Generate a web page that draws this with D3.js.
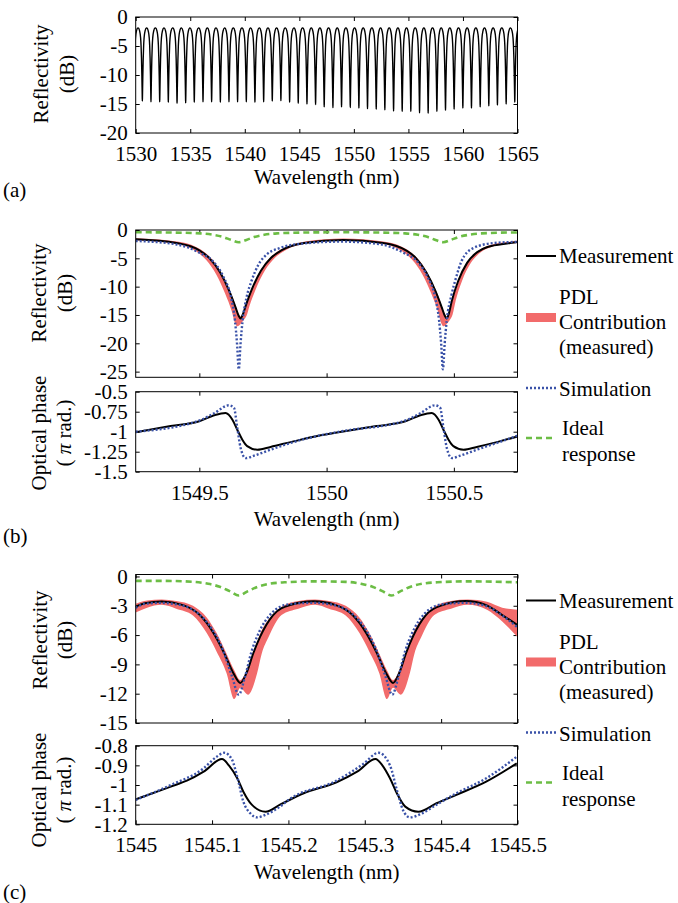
<!DOCTYPE html>
<html>
<head>
<meta charset="utf-8">
<script src="https://cdn.jsdelivr.net/npm/d3@7"></script>
<style>
body { margin: 0; background: #fff; }
svg { display: block; }
text { font-family: "Liberation Serif", "Tinos", "Times New Roman", Times, "DejaVu Serif", "Noto Serif", serif; font-size: 21px; fill: #000; }
</style>
</head>
<body>
<svg width="678" height="903"></svg>
<script>

// ---------- (a) full comb ----------
var aTicksX = [1530, 1535, 1540, 1545, 1550, 1555, 1560, 1565];
var aTicksY = [0, -5, -10, -15, -20];
var combPeak = -1.9;
var combCenters = [1529.82, 1530.61, 1531.40, 1532.20, 1532.99, 1533.79, 1534.58, 1535.37, 1536.17,
    1536.96, 1537.76, 1538.55, 1539.34, 1540.14, 1540.93, 1541.73, 1542.52, 1543.31, 1544.11,
    1544.90, 1545.70, 1546.49, 1547.28, 1548.08, 1548.87, 1549.67, 1550.46, 1551.25, 1552.05,
    1552.84, 1553.64, 1554.43, 1555.22, 1556.02, 1556.81, 1557.61, 1558.40, 1559.19, 1559.99,
    1560.78, 1561.58, 1562.37, 1563.16, 1563.96, 1564.75];
var combDepths = [-14.5, -14.5, -14.6, -14.6, -14.7, -14.9, -14.8, -14.7, -14.6, -14.6, -14.7,
    -14.6, -14.6, -14.6, -14.7, -14.6, -14.5, -14.4, -14.7, -14.9, -15.0, -15.1, -15.5, -15.6,
    -15.5, -15.6, -15.7, -15.8, -15.9, -16.0, -16.2, -16.3, -16.3, -16.5, -16.6, -16.3, -16.1,
    -15.9, -15.7, -15.7, -15.5, -15.3, -15.2, -15.0, -14.7];
var dipProfile = [[-0.38, 0], [-0.25, 0.04], [-0.16, 0.134], [-0.12, 0.235], [-0.08, 0.415],
    [-0.045, 0.646], [-0.02, 0.856], [-0.008, 0.96], [0, 1], [0.008, 0.96], [0.02, 0.856],
    [0.045, 0.646], [0.08, 0.415], [0.12, 0.235], [0.16, 0.134], [0.25, 0.04], [0.38, 0]];

// ---------- (b) zoom around 1550 nm ----------
var bTicksX = [1549.5, 1550, 1550.5];
var bTicksR = [0, -5, -10, -15, -20, -25];
var bTicksP = [-0.5, -0.75, -1, -1.25, -1.5];
var bMeasR = [[1549.25, -1.65], [1549.41, -2.3], [1549.50, -3.6], [1549.54, -5.0], [1549.582, -7.5],
    [1549.617, -10.7], [1549.642, -13.6], [1549.654, -15.1], [1549.662, -15.6], [1549.670, -15.0],
    [1549.682, -13.4], [1549.707, -10.4], [1549.742, -7.2], [1549.782, -4.9], [1549.822, -3.6],
    [1549.912, -2.3], [1550.066, -1.75], [1550.222, -2.3], [1550.312, -3.6], [1550.352, -5.0],
    [1550.392, -7.5], [1550.427, -10.7], [1550.452, -13.6], [1550.464, -15.1], [1550.472, -15.6],
    [1550.480, -14.8], [1550.492, -12.5], [1550.517, -9.0], [1550.552, -5.8], [1550.592, -3.9],
    [1550.632, -3.0], [1550.722, -2.3], [1550.75, -2.1]];
var bSimR = [[1549.25, -1.94], [1549.405, -2.5], [1549.50, -4.0], [1549.555, -5.6], [1549.595, -8.3],
    [1549.625, -12], [1549.640, -16], [1549.648, -20], [1549.655, -24.6], [1549.662, -20],
    [1549.670, -16], [1549.685, -12], [1549.705, -9.0], [1549.730, -6.3], [1549.765, -4.3],
    [1549.815, -3.2], [1549.905, -2.4], [1550.06, -2.05], [1550.207, -2.5], [1550.302, -4.0],
    [1550.357, -5.6], [1550.397, -8.3], [1550.427, -12], [1550.442, -16], [1550.450, -20],
    [1550.457, -24.6], [1550.464, -20], [1550.472, -16], [1550.491, -11.4], [1550.508, -8.5],
    [1550.530, -5.5], [1550.576, -3.2], [1550.657, -2.3], [1550.75, -2.1]];
var bIdealR = [[1549.25, -0.4], [1549.40, -0.45], [1549.505, -0.6], [1549.555, -0.85], [1549.595, -1.25],
    [1549.625, -1.75], [1549.655, -2.15], [1549.685, -1.75], [1549.715, -1.25], [1549.755, -0.85],
    [1549.805, -0.6], [1549.91, -0.45], [1550.06, -0.4], [1550.21, -0.45], [1550.308, -0.6],
    [1550.358, -0.85], [1550.398, -1.25], [1550.428, -1.75], [1550.458, -2.15], [1550.488, -1.75],
    [1550.518, -1.25], [1550.558, -0.85], [1550.608, -0.6], [1550.72, -0.45], [1550.75, -0.45]];
// PDL band: [wavelength, lower, upper]
var bPdlR = [[1549.25, -1.8, -1.45], [1549.412, -2.45, -2.05], [1549.487, -3.75, -3.0], [1549.527, -5.3, -4.15],
    [1549.567, -7.9, -6.15], [1549.602, -11.3, -8.95], [1549.627, -14.3, -11.45], [1549.640, -16.4, -13.05],
    [1549.650, -17.0, -14.35], [1549.662, -16.6, -15.3], [1549.672, -16.0, -14.55], [1549.685, -15.2, -12.75],
    [1549.697, -13.4, -11.55], [1549.722, -10.4, -8.75], [1549.757, -7.2, -6.05], [1549.797, -4.9, -4.15],
    [1549.837, -3.6, -3.1], [1549.922, -2.4, -2.0], [1550.066, -1.85, -1.5], [1550.222, -2.45, -2.05],
    [1550.297, -3.75, -3.0], [1550.337, -5.3, -4.15], [1550.377, -7.9, -6.15], [1550.412, -11.3, -8.95],
    [1550.437, -14.3, -11.45], [1550.450, -16.4, -13.05], [1550.460, -17.0, -14.35], [1550.472, -16.6, -15.3],
    [1550.482, -16.0, -14.55], [1550.495, -14.9, -11.85], [1550.507, -12.5, -10.65], [1550.532, -9.0, -7.45],
    [1550.567, -5.8, -4.85], [1550.607, -3.9, -3.35], [1550.647, -3.0, -2.6], [1550.732, -2.35, -2.0],
    [1550.75, -2.3, -1.85]];
var bMeasP = [[1549.25, -1.008], [1549.387, -0.93], [1549.5, -0.87], [1549.558, -0.795], [1549.603, -0.766],
    [1549.63, -0.85], [1549.649, -0.975], [1549.669, -1.10], [1549.688, -1.18], [1549.728, -1.225],
    [1549.78, -1.19], [1549.859, -1.13], [1549.977, -1.045], [1550.107, -0.975], [1550.197, -0.93],
    [1550.31, -0.87], [1550.368, -0.795], [1550.413, -0.766], [1550.44, -0.85], [1550.459, -0.975],
    [1550.479, -1.10], [1550.498, -1.18], [1550.538, -1.225], [1550.59, -1.19], [1550.669, -1.13],
    [1550.75, -1.06]];
var bSimP = [[1549.25, -1.0], [1549.5, -0.86], [1549.558, -0.77], [1549.616, -0.67], [1549.636, -0.70],
    [1549.649, -0.95], [1549.662, -1.2], [1549.682, -1.33], [1549.715, -1.30], [1549.78, -1.225],
    [1549.859, -1.14], [1549.977, -1.045], [1550.06, -0.995], [1550.31, -0.86], [1550.368, -0.77],
    [1550.426, -0.67], [1550.446, -0.70], [1550.459, -0.95], [1550.472, -1.2], [1550.492, -1.33],
    [1550.525, -1.30], [1550.59, -1.225], [1550.669, -1.14], [1550.75, -1.05]];

// ---------- (c) zoom around 1545.25 nm ----------
var cTicksX = [1545, 1545.1, 1545.2, 1545.3, 1545.4, 1545.5];
var cTicksR = [0, -3, -6, -9, -12, -15];
var cTicksP = [-0.8, -0.9, -1, -1.1, -1.2];
var cMeasR = [[1545.000, -3.1], [1545.012, -2.75], [1545.034, -2.57], [1545.062, -2.93], [1545.084, -3.95],
    [1545.102, -5.8], [1545.115, -7.7], [1545.128, -9.9], [1545.137, -10.9], [1545.145, -9.9],
    [1545.154, -7.86], [1545.163, -6.16], [1545.180, -3.95], [1545.202, -2.93], [1545.233, -2.55],
    [1545.262, -2.93], [1545.284, -3.95], [1545.302, -5.8], [1545.315, -7.7], [1545.328, -9.9],
    [1545.337, -10.9], [1545.345, -9.9], [1545.354, -7.86], [1545.363, -6.16], [1545.380, -3.95],
    [1545.402, -2.93], [1545.432, -2.52], [1545.459, -2.93], [1545.480, -3.95], [1545.500, -4.97]];
var cSimR = [[1545.000, -3.2], [1545.012, -2.8], [1545.032, -2.7], [1545.06, -2.95], [1545.082, -3.8],
    [1545.100, -5.4], [1545.113, -7.3], [1545.126, -10.2], [1545.135, -12.1], [1545.143, -10.3],
    [1545.152, -7.6], [1545.161, -5.8], [1545.178, -3.75], [1545.200, -2.85], [1545.233, -2.7],
    [1545.261, -2.95], [1545.283, -3.8], [1545.301, -5.4], [1545.314, -7.3], [1545.327, -10.2],
    [1545.336, -12.1], [1545.344, -10.3], [1545.353, -7.6], [1545.362, -5.8], [1545.379, -3.75],
    [1545.401, -2.85], [1545.431, -2.7], [1545.458, -3.0], [1545.480, -4.0], [1545.500, -5.2]];
var cIdealR = [[1545.000, -0.45], [1545.035, -0.45], [1545.075, -0.55], [1545.095, -0.75], [1545.11, -1.05],
    [1545.123, -1.5], [1545.135, -1.95], [1545.147, -1.5], [1545.16, -1.05], [1545.175, -0.75],
    [1545.195, -0.6], [1545.235, -0.5], [1545.275, -0.55], [1545.295, -0.75], [1545.31, -1.05],
    [1545.323, -1.5], [1545.335, -1.95], [1545.347, -1.5], [1545.36, -1.05], [1545.375, -0.75],
    [1545.395, -0.6], [1545.435, -0.5], [1545.5, -0.6]];
var cPdlR = [[1545.000, -3.7, -2.8], [1545.015, -3.2, -2.45], [1545.034, -2.9, -2.35], [1545.053, -3.3, -2.5],
    [1545.075, -4.0, -3.0], [1545.093, -5.8, -4.2], [1545.106, -7.7, -5.8], [1545.119, -9.9, -7.9],
    [1545.129, -12.55, -9.6], [1545.137, -11.4, -10.6], [1545.147, -12.1, -9.3], [1545.159, -9.9, -6.7],
    [1545.165, -7.9, -5.5], [1545.174, -6.2, -4.4], [1545.191, -3.95, -3.1], [1545.213, -3.3, -2.5],
    [1545.235, -2.9, -2.35], [1545.253, -3.3, -2.5], [1545.275, -4.0, -3.0], [1545.293, -5.8, -4.2],
    [1545.306, -7.7, -5.8], [1545.319, -9.9, -7.9], [1545.329, -12.55, -9.6], [1545.337, -11.4, -10.6],
    [1545.347, -12.1, -9.3], [1545.359, -9.9, -6.7], [1545.365, -7.9, -5.5], [1545.374, -6.2, -4.4],
    [1545.391, -3.95, -3.1], [1545.413, -3.3, -2.5], [1545.435, -2.9, -2.35], [1545.46, -3.4, -2.6],
    [1545.48, -4.6, -3.2], [1545.5, -6.2, -3.4]];
var cMeasP = [[1545.000, -1.073], [1545.046, -1.008], [1545.067, -0.978], [1545.089, -0.932], [1545.113, -0.868],
    [1545.122, -0.90], [1545.133, -0.966], [1545.141, -1.034], [1545.152, -1.10], [1545.170, -1.136],
    [1545.189, -1.10], [1545.220, -1.042], [1545.263, -0.986], [1545.290, -0.932], [1545.314, -0.868],
    [1545.323, -0.90], [1545.333, -0.966], [1545.342, -1.042], [1545.353, -1.11], [1545.370, -1.136],
    [1545.394, -1.093], [1545.420, -1.05], [1545.459, -0.983], [1545.499, -0.89]];
var cSimP = [[1545.000, -1.076], [1545.046, -1.0], [1545.089, -0.915], [1545.106, -0.856], [1545.116, -0.836],
    [1545.126, -0.87], [1545.133, -0.958], [1545.141, -1.085], [1545.150, -1.144], [1545.159, -1.165],
    [1545.172, -1.148], [1545.189, -1.11], [1545.200, -1.076], [1545.263, -0.978], [1545.298, -0.893],
    [1545.318, -0.836], [1545.333, -0.9], [1545.342, -1.025], [1545.350, -1.127], [1545.359, -1.165],
    [1545.372, -1.15], [1545.394, -1.10], [1545.420, -1.042], [1545.459, -0.966], [1545.499, -0.856]];

var legendLabels = [['Measurement'], ['PDL', 'Contribution', '(measured)'], ['Simulation'], ['Ideal', 'response']];

var svg = d3.select('svg'),
    left = 135.7,
    right = 517.5,
    tick = 4,
    red = '#f26b6b',
    blue = '#3a52a8',
    green = '#6cbd45',
    clipId = 0;

function fmt(d) { return String(d); }

// boxed axes with inward ticks on all sides, returns a clipped group for the marks
function box(x, y, xTicks, yTicks, showX) {
    var y0 = y.range()[0], y1 = y.range()[1];
    var g = svg.append('g');
    g.append('g').attr('transform', 'translate(0,' + y0 + ')')
        .call(d3.axisBottom(x).tickValues(xTicks).tickSizeInner(-tick).tickSizeOuter(0).tickPadding(13)
            .tickFormat(showX ? fmt : ''))
        .call(function (a) { a.select('.domain').remove(); });
    g.append('g').attr('transform', 'translate(0,' + y1 + ')')
        .call(d3.axisTop(x).tickValues(xTicks).tickSizeInner(-tick).tickSizeOuter(0).tickFormat(''))
        .call(function (a) { a.select('.domain').remove(); });
    g.append('g').attr('transform', 'translate(' + left + ',0)')
        .call(d3.axisLeft(y).tickValues(yTicks).tickSizeInner(-tick).tickSizeOuter(0).tickPadding(8).tickFormat(fmt))
        .call(function (a) { a.select('.domain').remove(); });
    g.append('g').attr('transform', 'translate(' + right + ',0)')
        .call(d3.axisRight(y).tickValues(yTicks).tickSizeInner(-tick).tickSizeOuter(0).tickFormat(''))
        .call(function (a) { a.select('.domain').remove(); });
    g.selectAll('g').attr('font-family', null).attr('font-size', null);

    var id = 'clip' + (clipId++);
    svg.append('clipPath').attr('id', id).append('rect')
        .attr('x', left).attr('y', y1).attr('width', right - left).attr('height', y0 - y1);
    var plot = svg.append('g').attr('clip-path', 'url(#' + id + ')');

    svg.append('rect').attr('x', left).attr('y', y1).attr('width', right - left).attr('height', y0 - y1)
        .attr('fill', 'none').attr('stroke', '#000').attr('stroke-width', 1);
    return plot;
}

function lineOf(x, y) {
    return d3.line().x(function (d) { return x(d[0]); }).y(function (d) { return y(d[1]); })
        .curve(d3.curveMonotoneX);
}

function bandOf(x, y) {
    return d3.area().x(function (d) { return x(d[0]); })
        .y0(function (d) { return y(d[1]); }).y1(function (d) { return y(d[2]); })
        .curve(d3.curveMonotoneX);
}

function draw(g, x, y, meas, sim, ideal, pdl) {
    if (pdl) g.append('path').datum(pdl).attr('d', bandOf(x, y)).attr('fill', red);
    g.append('path').datum(meas).attr('d', lineOf(x, y))
        .attr('fill', 'none').attr('stroke', '#000').attr('stroke-width', 2);
    g.append('path').datum(sim).attr('d', lineOf(x, y))
        .attr('fill', 'none').attr('stroke', blue).attr('stroke-width', 2.4).attr('stroke-dasharray', '2,2');
    if (ideal) g.append('path').datum(ideal).attr('d', lineOf(x, y))
        .attr('fill', 'none').attr('stroke', green).attr('stroke-width', 2.6).attr('stroke-dasharray', '6,4');
}

function ylabel(x, y, lines, italicPi) {
    var t = svg.append('text').attr('text-anchor', 'middle')
        .attr('transform', 'translate(' + x + ',' + y + ') rotate(-90)');
    if (italicPi) {
        t.append('tspan').text('( ');
        t.append('tspan').attr('font-style', 'italic').text('\u03c0');
        t.append('tspan').text(' rad.)');
    } else {
        t.text(lines);
    }
}

function label(x, y, s, anchor) {
    svg.append('text').attr('x', x).attr('y', y).attr('text-anchor', anchor || 'start').text(s);
}

function legend(T) {
    var g = svg.append('g');
    g.append('line').attr('x1', 526).attr('x2', 556).attr('y1', T + 26).attr('y2', T + 26)
        .attr('stroke', '#000').attr('stroke-width', 2);
    g.append('rect').attr('x', 526).attr('y', T + 83).attr('width', 30).attr('height', 9).attr('fill', red);
    g.append('line').attr('x1', 526).attr('x2', 556).attr('y1', T + 158).attr('y2', T + 158)
        .attr('stroke', blue).attr('stroke-width', 2.4).attr('stroke-dasharray', '2,2');
    g.append('line').attr('x1', 526).attr('x2', 556).attr('y1', T + 208).attr('y2', T + 208)
        .attr('stroke', green).attr('stroke-width', 2.6).attr('stroke-dasharray', '6,4');

    var rows = [[T + 33], [T + 74, T + 99, T + 124], [T + 166], [T + 205, T + 231]];
    legendLabels.forEach(function (item, i) {
        item.forEach(function (s, j) {
            label(i === 3 ? 562 : 559, rows[i][j], s);
        });
    });
}

// ---------- (a) ----------
var xA = d3.scaleLinear().domain([1530, 1565]).range([left, right]);
var yA = d3.scaleLinear().domain([-20, 0]).range([133, 17]);
var gA = box(xA, yA, aTicksX, aTicksY, true);
var comb = [];
combCenters.forEach(function (c, i) {
    dipProfile.forEach(function (p) {
        comb.push([c + p[0], combPeak + (combDepths[i] - combPeak) * p[1]]);
    });
});
gA.append('path').datum(comb).attr('d', lineOf(xA, yA))
    .attr('fill', 'none').attr('stroke', '#000').attr('stroke-width', 1.4);
ylabel(48, 74, 'Reflectivity');
ylabel(74, 74, '(dB)');
label((left + right) / 2, 184, 'Wavelength (nm)', 'middle');
label(3, 197, '(a)');

// ---------- (b) ----------
var xB = d3.scaleLinear().domain([1549.25, 1550.75]).range([left, right]);
var yBR = d3.scaleLinear().domain([-26, 0]).range([377.3, 230]);
var yBP = d3.scaleLinear().domain([-1.5, -0.5]).range([471.7, 391.7]);
var gBR = box(xB, yBR, bTicksX, bTicksR, false);
draw(gBR, xB, yBR, bMeasR, bSimR, bIdealR, bPdlR);
var gBP = box(xB, yBP, bTicksX, bTicksP, true);
draw(gBP, xB, yBP, bMeasP, bSimP);
ylabel(46, 293, 'Reflectivity');
ylabel(72, 293, '(dB)');
ylabel(46, 433, 'Optical phase');
ylabel(71, 433, null, true);
label((left + right) / 2, 526, 'Wavelength (nm)', 'middle');
label(3, 543, '(b)');
legend(230);

// ---------- (c) ----------
var xC = d3.scaleLinear().domain([1545, 1545.5]).range([left, right]);
var yCR = d3.scaleLinear().domain([-15, 0.2]).range([723, 574.5]);
var yCP = d3.scaleLinear().domain([-1.2, -0.8]).range([824.3, 745.7]);
var gCR = box(xC, yCR, cTicksX, cTicksR, false);
draw(gCR, xC, yCR, cMeasR, cSimR, cIdealR, cPdlR);
var gCP = box(xC, yCP, cTicksX, cTicksP, true);
draw(gCP, xC, yCP, cMeasP, cSimP);
ylabel(47, 640, 'Reflectivity');
ylabel(72, 640, '(dB)');
ylabel(46, 790, 'Optical phase');
ylabel(71, 790, null, true);
label((left + right) / 2, 879, 'Wavelength (nm)', 'middle');
label(3, 899, '(c)');
legend(574.5);

</script>
</body>
</html>
